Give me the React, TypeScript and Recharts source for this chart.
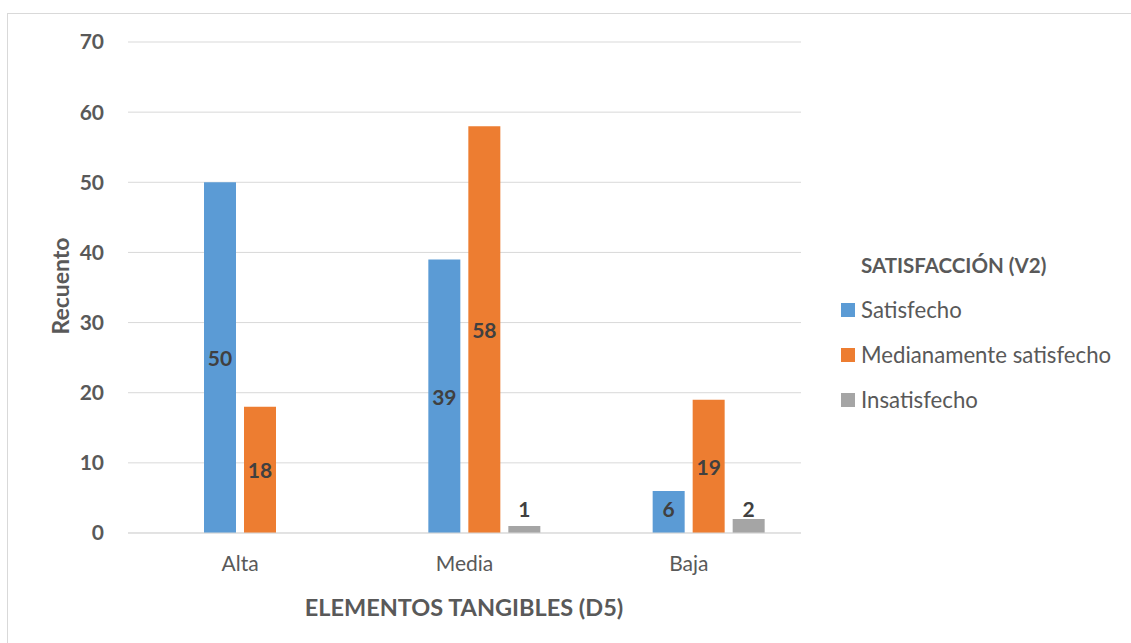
import React from 'react';
import { BarChart, Bar, XAxis, YAxis, CartesianGrid, LabelList } from 'recharts';

const categories = ['Alta', 'Media', 'Baja'];
const satisfecho = [50, 39, 6];
const medianamente = [18, 58, 19];
const insatisfecho = [0, 1, 2];
// Excel kept an empty slot before the three series
const vacio = [null, null, null];
const yTicks = [0, 10, 20, 30, 40, 50, 60, 70];

const series = [
  { key: 'satisfecho', name: 'Satisfecho', color: '#5B9BD5' },
  { key: 'medianamente', name: 'Medianamente satisfecho', color: '#ED7D31' },
  { key: 'insatisfecho', name: 'Insatisfecho', color: '#A5A5A5' },
];

const data = categories.map((c, i) => ({
  cat: c,
  vacio: vacio[i],
  satisfecho: satisfecho[i],
  medianamente: medianamente[i],
  insatisfecho: insatisfecho[i],
}));

const FONT = 'Lato, "Open Sans", sans-serif';
const TEXT = '#595959';

const BarValue = (props: any) => {
  const { x, y, width, height, value } = props;
  if (!value) return null;
  const base = y + height;
  const cy = Math.min(y + height / 2, base - 25);
  return (
    <text
      x={x + width / 2}
      y={cy}
      textAnchor="middle"
      dominantBaseline="central"
      fontFamily={FONT}
      fontWeight="bold"
      fontSize={21}
      fill="#404040"
    >
      {value}
    </text>
  );
};

const LegendBox = () => (
  <div style={{ position: 'absolute', left: 841, top: 253, width: 290, fontFamily: FONT, color: TEXT }}>
    <div style={{ fontWeight: 'bold', fontSize: 20.5, marginLeft: 20, height: 24, lineHeight: '24px', whiteSpace: 'nowrap' }}>
      SATISFACCIÓN (V2)
    </div>
    {series.map((s) => (
      <div key={s.key} style={{ display: 'flex', alignItems: 'center', marginTop: 21, height: 24 }}>
        <span style={{ width: 14, height: 14, background: s.color, display: 'inline-block', marginRight: 6 }} />
        <span style={{ fontSize: 22.2, lineHeight: '24px', whiteSpace: 'nowrap' }}>{s.name}</span>
      </div>
    ))}
  </div>
);

const App: React.FC = () => {
  return (
    <div style={{ position: 'absolute', left: 0, top: 0, width: 1131, height: 643, background: '#fff', overflow: 'hidden' }}>
      <div
        style={{
          position: 'absolute',
          left: 7,
          top: 13,
          width: 1200,
          height: 700,
          borderTop: '1px solid #d9d9d9',
          borderLeft: '1px solid #d9d9d9',
        }}
      />
      <BarChart
        width={1131}
        height={643}
        data={data}
        margin={{ top: 42, right: 330, bottom: 80, left: 0 }}
        barSize={32}
        barGap={8}
        style={{ position: 'absolute', left: 0, top: 0 }}
      >
        <CartesianGrid vertical={false} stroke="#d9d9d9" strokeWidth={1} />
        <XAxis
          dataKey="cat"
          height={30}
          axisLine={{ stroke: '#d9d9d9' }}
          tickLine={false}
          tickMargin={17}
          tick={{ fill: TEXT, fontSize: 21, fontFamily: FONT }}
          label={{
            content: () => (
              <text x={464} y={607} textAnchor="middle" dominantBaseline="central" fontFamily={FONT} fontWeight="bold" fontSize={23.5} fill={TEXT}>
                ELEMENTOS TANGIBLES (D5)
              </text>
            ),
          }}
        />
        <YAxis
          width={128}
          domain={[0, 70]}
          ticks={yTicks}
          axisLine={false}
          tickLine={false}
          tickMargin={18}
          tick={{ fill: TEXT, fontSize: 21, fontFamily: FONT, fontWeight: 'bold' }}
          label={{
            content: () => (
              <text x={60} y={286} transform="rotate(-90 60 286)" textAnchor="middle" dominantBaseline="central" fontFamily={FONT} fontWeight="bold" fontSize={23} fill={TEXT}>
                Recuento
              </text>
            ),
          }}
        />
        <Bar dataKey="vacio" fill="transparent" isAnimationActive={false} legendType="none" />
        {series.map((s) => (
          <Bar key={s.key} dataKey={s.key} name={s.name} fill={s.color} isAnimationActive={false}>
            <LabelList dataKey={s.key} content={BarValue} />
          </Bar>
        ))}
      </BarChart>
      <LegendBox />
    </div>
  );
};

export default App;
